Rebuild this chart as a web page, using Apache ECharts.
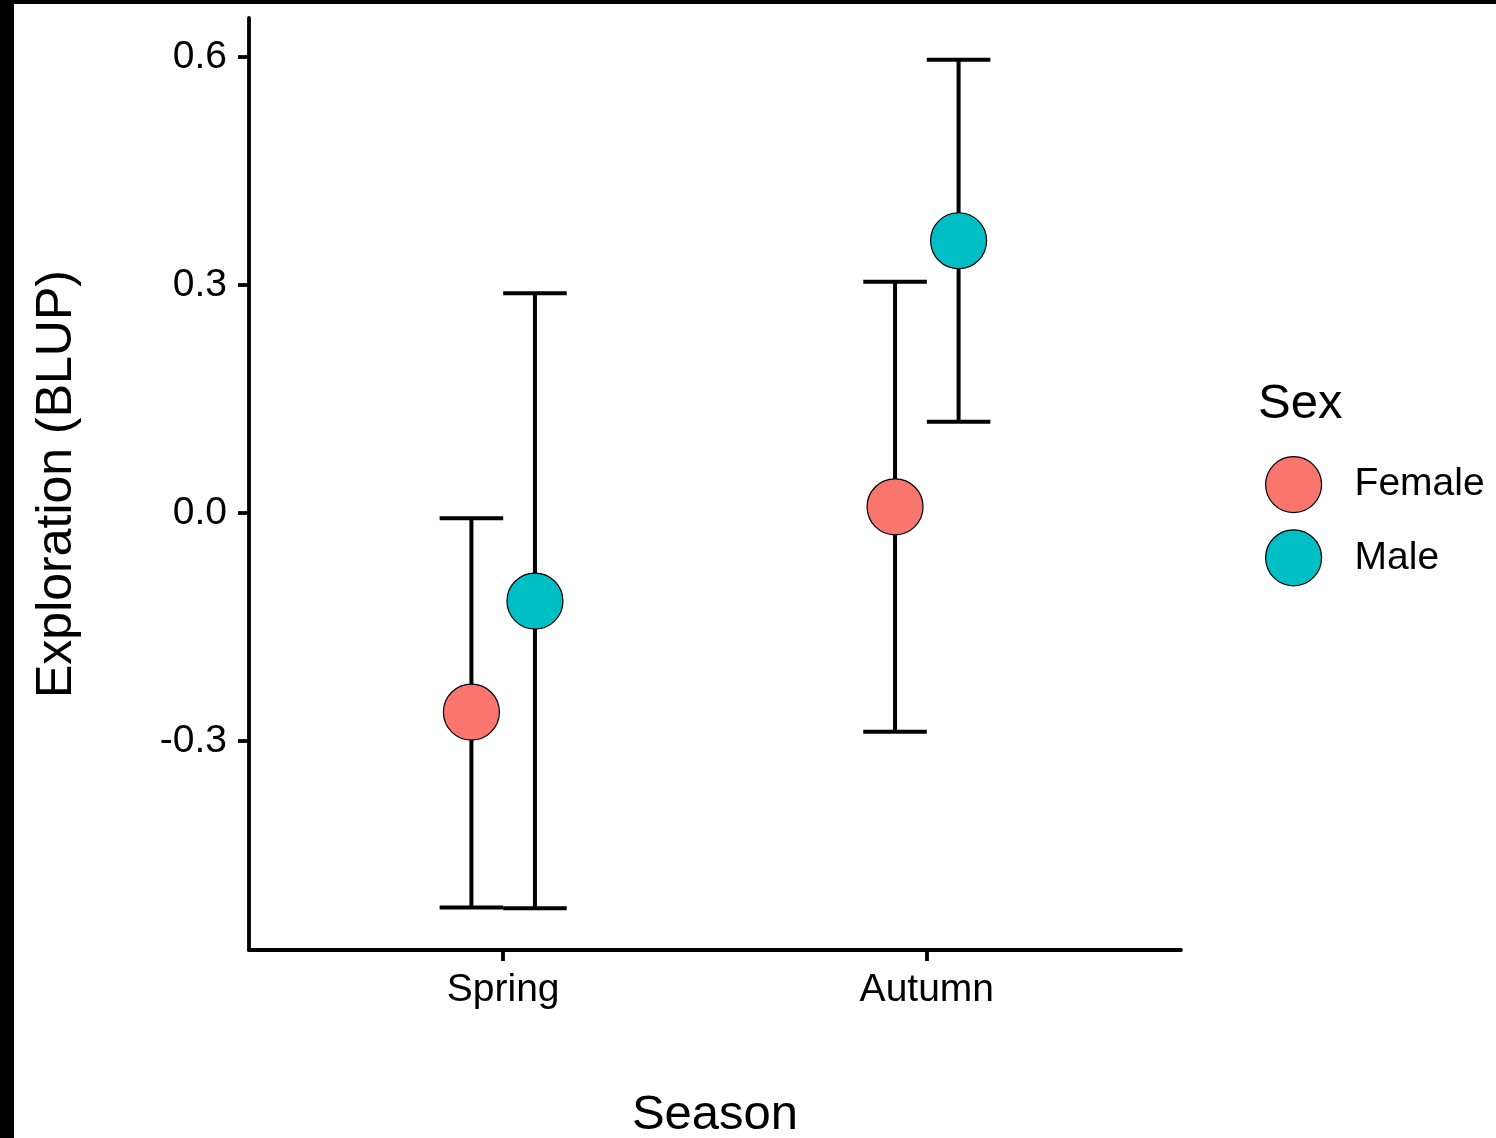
<!DOCTYPE html>
<html>
<head>
<meta charset="utf-8">
<script src="https://cdn.jsdelivr.net/npm/echarts@6/dist/echarts.min.js"></script>
<style>
html,body{margin:0;padding:0;background:#fff;}
#chart{width:1496px;height:1138px;}
</style>
</head>
<body>
<div id="chart"></div>
<script>
const seasons = ['Spring', 'Autumn'];
const sexes = ['Female', 'Male'];
const colors = ['#F8766D', '#00BFC4'];
const femaleMean = [-0.262, 0.008];
const femaleLow = [-0.519, -0.288];
const femaleHigh = [-0.007, 0.304];
const maleMean = [-0.116, 0.358];
const maleLow = [-0.520, 0.120];
const maleHigh = [0.289, 0.596];
const yTicks = [-0.3, 0.0, 0.3, 0.6];

const dodge = 0.075;     // half of dodge width
const capHalf = 0.075;   // half of error bar width
const FONT = 'Liberation Sans, Arial, sans-serif';

function xPos(i, s) { return (i + 1) + (s === 0 ? -dodge : dodge); }

const groups = [
  { name: sexes[0], mean: femaleMean, low: femaleLow, high: femaleHigh, color: colors[0] },
  { name: sexes[1], mean: maleMean, low: maleLow, high: maleHigh, color: colors[1] }
];

const series = [];
groups.forEach((g, s) => {
  series.push({
    type: 'custom',
    name: g.name + ' CI',
    z: 2,
    silent: true,
    data: seasons.map((_, i) => [xPos(i, s), g.low[i], g.high[i]]),
    renderItem: function (params, api) {
      const x = api.value(0);
      const lo = api.coord([x, api.value(1)]);
      const hi = api.coord([x, api.value(2)]);
      const lL = api.coord([x - capHalf, api.value(1)]);
      const lR = api.coord([x + capHalf, api.value(1)]);
      const hL = api.coord([x - capHalf, api.value(2)]);
      const hR = api.coord([x + capHalf, api.value(2)]);
      const st = { stroke: '#000', lineWidth: 4 };
      return {
        type: 'group',
        children: [
          { type: 'line', shape: { x1: lo[0], y1: lo[1], x2: hi[0], y2: hi[1] }, style: st },
          { type: 'line', shape: { x1: lL[0], y1: lL[1], x2: lR[0], y2: lR[1] }, style: st },
          { type: 'line', shape: { x1: hL[0], y1: hL[1], x2: hR[0], y2: hR[1] }, style: st }
        ]
      };
    }
  });
});
groups.forEach((g, s) => {
  series.push({
    type: 'scatter',
    name: g.name,
    z: 5,
    symbol: 'circle',
    symbolSize: 56,
    itemStyle: { color: g.color, borderColor: '#000', borderWidth: 1.2, opacity: 1 },
    data: seasons.map((_, i) => [xPos(i, s), g.mean[i]])
  });
});

const chart = echarts.init(document.getElementById('chart'), null, { renderer: 'canvas' });
chart.setOption({
  animation: false,
  backgroundColor: '#fff',
  textStyle: { fontFamily: FONT },
  grid: { left: 249, right: 315, top: 18, bottom: 188, containLabel: false, outerBoundsMode: 'none' },
  xAxis: {
    type: 'value',
    min: 0.4,
    max: 2.6,
    name: 'Season',
    nameLocation: 'middle',
    nameGap: 141,
    nameTextStyle: { fontSize: 49, color: '#000', fontFamily: FONT },
    axisLine: { show: true, onZero: false, lineStyle: { color: '#000', width: 3.8 } },
    axisTick: { show: true, customValues: [1, 2], length: 11, lineStyle: { color: '#000', width: 3.8 } },
    axisLabel: {
      customValues: [1, 2],
      formatter: v => seasons[Math.round(v) - 1] || '',
      fontSize: 39, color: '#000', margin: 21, fontFamily: FONT
    },
    splitLine: { show: false }
  },
  yAxis: {
    type: 'value',
    min: -0.575,
    max: 0.651,
    name: 'Exploration (BLUP)',
    nameLocation: 'middle',
    nameGap: 167,
    nameRotate: 90,
    nameTextStyle: { fontSize: 50, color: '#000', fontFamily: FONT },
    axisLine: { show: true, onZero: false, lineStyle: { color: '#000', width: 3.8 } },
    axisTick: { show: true, customValues: yTicks, length: 11, lineStyle: { color: '#000', width: 3.8 } },
    axisLabel: {
      customValues: yTicks,
      formatter: v => v.toFixed(1),
      fontSize: 39, color: '#000', margin: 22, fontFamily: FONT
    },
    splitLine: { show: false }
  },
  legend: {
    data: sexes,
    orient: 'vertical',
    left: 1265,
    top: 456,
    padding: 0,
    itemWidth: 56,
    itemHeight: 56,
    itemGap: 16,
    icon: 'circle',
    itemStyle: { borderColor: '#000', borderWidth: 1.2 },
    textStyle: { fontSize: 39, color: '#000', fontFamily: FONT, padding: [0, 0, 0, 28] },
    selectedMode: false
  },
  graphic: [
    { type: 'text', left: 1258, top: 380, style: { text: 'Sex', fontSize: 49, fill: '#000', fontFamily: FONT } },
    { type: 'rect', left: 0, top: 0, shape: { width: 14, height: 1138 }, style: { fill: '#000' } },
    { type: 'rect', left: 0, top: 0, shape: { width: 1496, height: 4 }, style: { fill: '#000' } }
  ],
  series: series
});
</script>
</body>
</html>
